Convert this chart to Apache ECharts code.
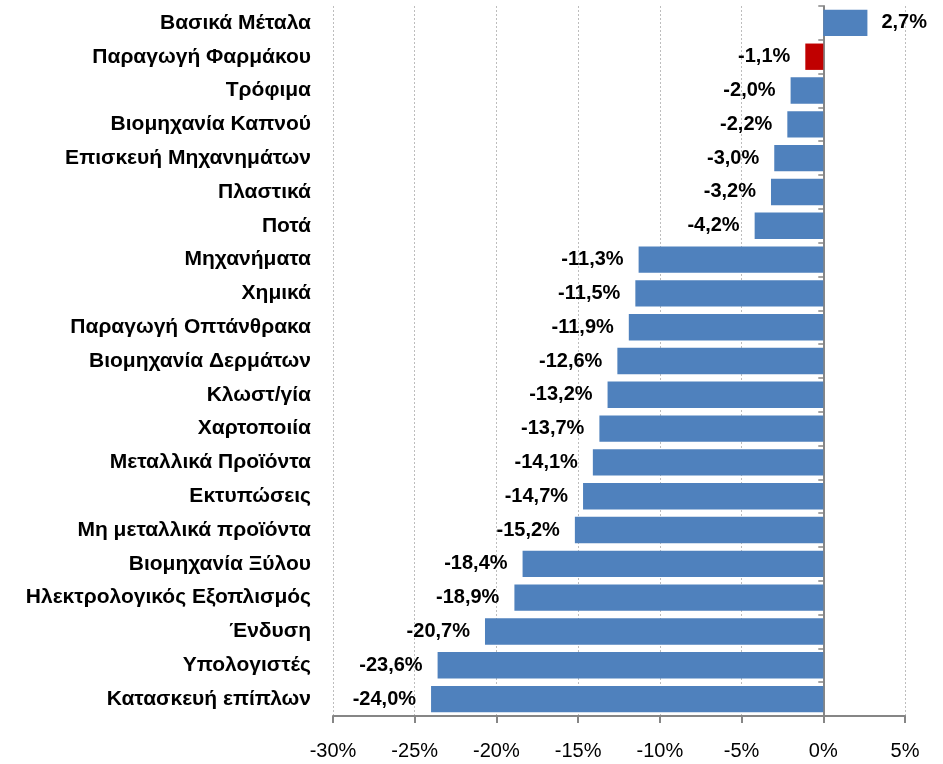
<!DOCTYPE html>
<html>
<head>
<meta charset="utf-8">
<script src="https://cdn.jsdelivr.net/npm/echarts@6/dist/echarts.min.js"></script>
<style>
  html, body { margin: 0; padding: 0; background: #fff; }
  #chart { width: 943px; height: 764px; }
</style>
</head>
<body>
<div id="chart"></div>
<script>
  // categories top to bottom
  var categories = [
    'Βασικά Μέταλα', 'Παραγωγή Φαρμάκου', 'Τρόφιμα', 'Βιομηχανία Καπνού',
    'Επισκευή Μηχανημάτων', 'Πλαστικά', 'Ποτά', 'Μηχανήματα', 'Χημικά',
    'Παραγωγή Οπτάνθρακα', 'Βιομηχανία Δερμάτων', 'Κλωστ/γία', 'Χαρτοποιία',
    'Μεταλλικά Προϊόντα', 'Εκτυπώσεις', 'Μη μεταλλικά προϊόντα',
    'Βιομηχανία Ξύλου', 'Ηλεκτρολογικός Εξοπλισμός', 'Ένδυση', 'Υπολογιστές',
    'Κατασκευή επίπλων'
  ]
  var values = [2.7, -1.1, -2.0, -2.2, -3.0, -3.2, -4.2, -11.3, -11.5, -11.9, -12.6,
    -13.2, -13.7, -14.1, -14.7, -15.2, -18.4, -18.9, -20.7, -23.6, -24.0]
  var highlighted = ['Παραγωγή Φαρμάκου']
  var xMin = -30
  var xMax = 5
  var xStep = 5

  var fmt = function (v) {
    return v.toFixed(1).replace('.', ',') + '%'
  }

  var barData = values.map(function (v, i) {
    return {
      value: v,
      itemStyle: { color: highlighted.indexOf(categories[i]) >= 0 ? '#C00000' : '#4F81BD' },
      label: {
        position: v < 0 ? 'left' : 'right',
        distance: v < 0 ? 15 : 14
      }
    }
  })

  var chart = echarts.init(document.getElementById('chart'))
  chart.setOption({
    animation: false,
    grid: {
      left: 333,
      right: 38,
      top: 6,
      bottom: 48
    },
    xAxis: {
      type: 'value',
      min: xMin,
      max: xMax,
      interval: xStep,
      axisLine: { show: true, lineStyle: { color: '#868686', width: 2 } },
      axisTick: { show: true, length: 7, lineStyle: { color: '#868686', width: 2 } },
      axisLabel: {
        margin: 25,
        color: '#000',
        fontSize: 20,
        fontFamily: '"Liberation Sans", Arial, sans-serif',
        formatter: function (v) { return v + '%' }
      },
      splitLine: { show: true, lineStyle: { color: '#BDBDBD', type: [2, 2], width: 1 } }
    },
    yAxis: [
      {
        type: 'category',
        data: categories,
        inverse: true,
        position: 'left',
        axisLine: { show: false, onZero: false },
        axisTick: { show: false },
        axisLabel: {
          margin: 22,
          color: '#000',
          fontSize: 21,
          fontWeight: 'bold',
          fontFamily: '"Liberation Sans", Arial, sans-serif'
        }
      },
      {
        type: 'category',
        data: categories,
        inverse: true,
        position: 'right',
        axisLine: { show: true, onZero: true, lineStyle: { color: '#868686', width: 2 } },
        axisTick: { show: true, inside: true, length: 5, lineStyle: { color: '#868686', width: 1.5 } },
        axisLabel: { show: false }
      }
    ],
    series: [
      {
        type: 'bar',
        yAxisIndex: 0,
        data: barData,
        barCategoryGap: '22%',
        label: {
          show: true,
          color: '#000',
          fontSize: 20,
          fontWeight: 'bold',
          fontFamily: '"Liberation Sans", Arial, sans-serif',
          formatter: function (p) { return fmt(p.value) }
        }
      }
    ]
  })
</script>
</body>
</html>
